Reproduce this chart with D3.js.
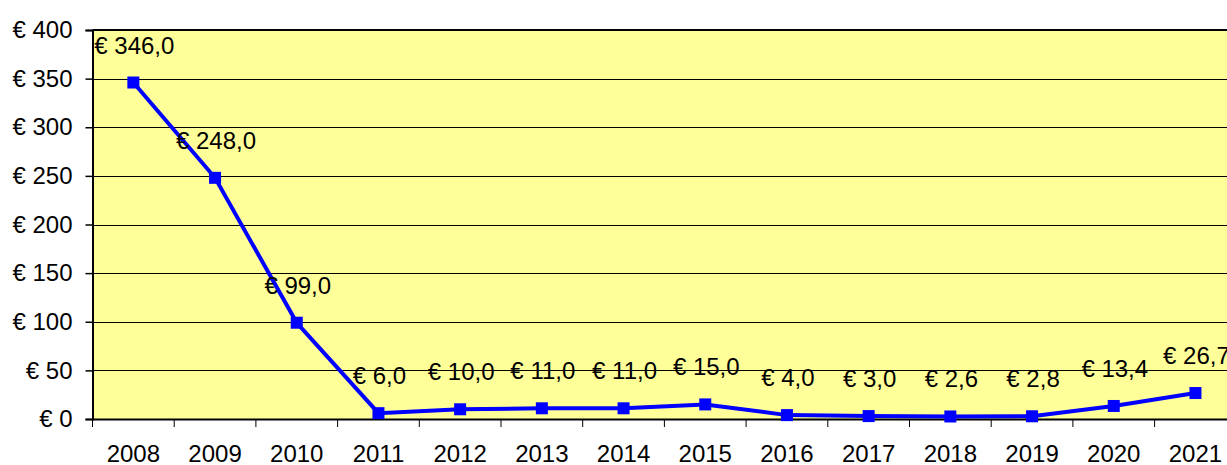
<!DOCTYPE html>
<html>
<head>
<meta charset="utf-8">
<script src="https://cdn.jsdelivr.net/npm/d3@7"></script>
<style>
  body { margin: 0; background: #fff; }
  svg text { font-family: "Liberation Sans", Arial, sans-serif; font-size: 24px; fill: #000; }
</style>
</head>
<body>
<svg width="1227" height="465"></svg>
<script>
// data
const years = ["2008", "2009", "2010", "2011", "2012", "2013", "2014", "2015", "2016", "2017", "2018", "2019", "2020", "2021"];
const values = [346.0, 248.0, 99.0, 6.0, 10.0, 11.0, 11.0, 15.0, 4.0, 3.0, 2.6, 2.8, 13.4, 26.7];
const yTicks = [0, 50, 100, 150, 200, 250, 300, 350, 400];

const svg = d3.select("svg");
const plotLeft = 92.5, plotTop = 30, plotBottom = 419;
const step = 81.7;

const x = d3.scaleBand()
  .domain(years)
  .range([plotLeft, plotLeft + step * years.length]);
const y = d3.scaleLinear().domain([0, 400]).range([plotBottom, plotTop]);

const euro = v => "€ " + d3.format(".1f")(v).replace(".", ",");

// plot background
svg.append("rect")
  .attr("x", plotLeft).attr("y", plotTop)
  .attr("width", 1227 - plotLeft).attr("height", plotBottom - plotTop)
  .attr("fill", "#ffff99");

// gridlines
svg.append("g").selectAll("line")
  .data(yTicks.filter(d => d > 0 && d < 400))
  .join("line")
  .attr("x1", plotLeft).attr("x2", 1227)
  .attr("y1", d => Math.round(y(d)) + 0.5).attr("y2", d => Math.round(y(d)) + 0.5)
  .attr("stroke", "#000").attr("stroke-width", 1);

// top border
svg.append("line")
  .attr("x1", plotLeft).attr("x2", 1227)
  .attr("y1", plotTop).attr("y2", plotTop)
  .attr("stroke", "#000").attr("stroke-width", 2);

// y axis
const yAxis = svg.append("g")
  .attr("transform", `translate(${plotLeft},0)`)
  .call(d3.axisLeft(y).tickValues(yTicks).tickSize(7).tickPadding(13).tickFormat(d => "€ " + d));
yAxis.select(".domain").attr("stroke", "#000").attr("stroke-width", 2);
yAxis.selectAll(".tick line").attr("stroke", "#000").attr("stroke-width", 1.5);
yAxis.selectAll("text").style("font-size", "24px").attr("fill", "#000");

// x axis
const xAxis = svg.append("g")
  .attr("transform", `translate(0,${plotBottom})`)
  .call(d3.axisBottom(x).tickSize(0).tickPadding(26).tickSizeOuter(0));
xAxis.select(".domain").attr("stroke", "#000").attr("stroke-width", 2);
xAxis.selectAll("text").style("font-size", "24px").attr("fill", "#000");

// category boundary ticks
svg.append("g").selectAll("line")
  .data(years)
  .join("line")
  .attr("x1", d => x(d)).attr("x2", d => x(d))
  .attr("y1", plotBottom).attr("y2", plotBottom + 8)
  .attr("stroke", "#000").attr("stroke-width", 1);

const cx = d => x(d) + x.bandwidth() / 2;

// line
svg.append("path")
  .datum(values)
  .attr("fill", "none")
  .attr("stroke", "#0000ff")
  .attr("stroke-width", 4)
  .attr("d", d3.line().x((d, i) => cx(years[i])).y(d => y(d)));

// markers
svg.append("g").selectAll("rect")
  .data(values)
  .join("rect")
  .attr("x", (d, i) => cx(years[i]) - 6)
  .attr("y", d => y(d) - 6)
  .attr("width", 12).attr("height", 12)
  .attr("fill", "#0000ff");

// data labels
svg.append("g").selectAll("text")
  .data(values)
  .join("text")
  .attr("x", (d, i) => cx(years[i]) + 1)
  .attr("y", d => y(d) - 29)
  .attr("text-anchor", "middle")
  .text(d => euro(d));
</script>
</body>
</html>
